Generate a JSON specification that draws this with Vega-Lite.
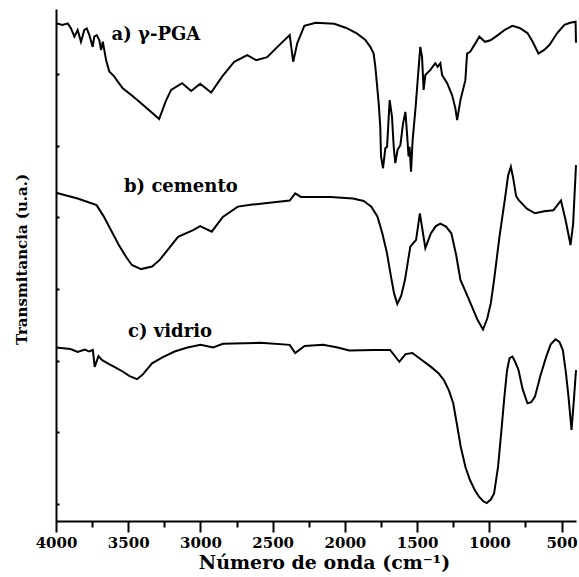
{
  "$schema": "https://vega.github.io/schema/vega-lite/v6.json",
  "width": 520,
  "height": 512,
  "autosize": {"type": "none"},
  "padding": {"left": 56, "top": 9, "right": 3, "bottom": 56},
  "background": "white",
  "config": {"view": {"stroke": null}},
  "datasets": {
    "spectra": [
      {"series": "a", "wn": 4000, "t": 97.2}, {"series": "a", "wn": 3954, "t": 96.9}, {"series": "a", "wn": 3919, "t": 97.2}, {"series": "a", "wn": 3896, "t": 96.2}, {"series": "a", "wn": 3873, "t": 94.6}, {"series": "a", "wn": 3850, "t": 95.9}, {"series": "a", "wn": 3827, "t": 93.6}, {"series": "a", "wn": 3804, "t": 95.9}, {"series": "a", "wn": 3787, "t": 96.2}, {"series": "a", "wn": 3769, "t": 94.9}, {"series": "a", "wn": 3746, "t": 92.6}, {"series": "a", "wn": 3735, "t": 94.6}, {"series": "a", "wn": 3718, "t": 94.9}, {"series": "a", "wn": 3700, "t": 93.9}, {"series": "a", "wn": 3688, "t": 92.0}, {"series": "a", "wn": 3676, "t": 93.6}, {"series": "a", "wn": 3653, "t": 90.0}, {"series": "a", "wn": 3631, "t": 87.8}, {"series": "a", "wn": 3596, "t": 86.8}, {"series": "a", "wn": 3572, "t": 85.8}, {"series": "a", "wn": 3538, "t": 84.5}, {"series": "a", "wn": 3470, "t": 83.0}, {"series": "a", "wn": 3411, "t": 81.6}, {"series": "a", "wn": 3359, "t": 80.3}, {"series": "a", "wn": 3286, "t": 78.5}, {"series": "a", "wn": 3240, "t": 82.0}, {"series": "a", "wn": 3203, "t": 84.2}, {"series": "a", "wn": 3127, "t": 85.5}, {"series": "a", "wn": 3064, "t": 84.0}, {"series": "a", "wn": 3002, "t": 85.4}, {"series": "a", "wn": 2926, "t": 83.7}, {"series": "a", "wn": 2850, "t": 86.8}, {"series": "a", "wn": 2766, "t": 89.7}, {"series": "a", "wn": 2676, "t": 91.0}, {"series": "a", "wn": 2614, "t": 90.0}, {"series": "a", "wn": 2538, "t": 90.6}, {"series": "a", "wn": 2460, "t": 92.8}, {"series": "a", "wn": 2382, "t": 94.9}, {"series": "a", "wn": 2358, "t": 89.7}, {"series": "a", "wn": 2330, "t": 93.3}, {"series": "a", "wn": 2281, "t": 96.7}, {"series": "a", "wn": 2202, "t": 97.3}, {"series": "a", "wn": 2074, "t": 97.1}, {"series": "a", "wn": 1990, "t": 96.3}, {"series": "a", "wn": 1921, "t": 95.3}, {"series": "a", "wn": 1893, "t": 94.7}, {"series": "a", "wn": 1860, "t": 94.0}, {"series": "a", "wn": 1824, "t": 92.6}, {"series": "a", "wn": 1801, "t": 91.3}, {"series": "a", "wn": 1789, "t": 88.7}, {"series": "a", "wn": 1766, "t": 81.6}, {"series": "a", "wn": 1755, "t": 77.0}, {"series": "a", "wn": 1750, "t": 71.2}, {"series": "a", "wn": 1736, "t": 68.9}, {"series": "a", "wn": 1720, "t": 72.8}, {"series": "a", "wn": 1708, "t": 73.1}, {"series": "a", "wn": 1690, "t": 82.2}, {"series": "a", "wn": 1674, "t": 79.0}, {"series": "a", "wn": 1662, "t": 73.1}, {"series": "a", "wn": 1651, "t": 69.9}, {"series": "a", "wn": 1635, "t": 72.5}, {"series": "a", "wn": 1616, "t": 73.4}, {"series": "a", "wn": 1597, "t": 77.7}, {"series": "a", "wn": 1581, "t": 79.9}, {"series": "a", "wn": 1570, "t": 75.7}, {"series": "a", "wn": 1559, "t": 71.2}, {"series": "a", "wn": 1552, "t": 73.1}, {"series": "a", "wn": 1542, "t": 68.2}, {"series": "a", "wn": 1531, "t": 74.4}, {"series": "a", "wn": 1512, "t": 80.3}, {"series": "a", "wn": 1496, "t": 86.1}, {"series": "a", "wn": 1478, "t": 92.6}, {"series": "a", "wn": 1466, "t": 90.7}, {"series": "a", "wn": 1455, "t": 84.2}, {"series": "a", "wn": 1443, "t": 87.1}, {"series": "a", "wn": 1408, "t": 88.1}, {"series": "a", "wn": 1374, "t": 89.4}, {"series": "a", "wn": 1358, "t": 88.7}, {"series": "a", "wn": 1339, "t": 89.4}, {"series": "a", "wn": 1327, "t": 87.1}, {"series": "a", "wn": 1292, "t": 85.5}, {"series": "a", "wn": 1258, "t": 83.2}, {"series": "a", "wn": 1235, "t": 80.6}, {"series": "a", "wn": 1223, "t": 78.3}, {"series": "a", "wn": 1200, "t": 82.2}, {"series": "a", "wn": 1166, "t": 86.1}, {"series": "a", "wn": 1154, "t": 91.3}, {"series": "a", "wn": 1131, "t": 91.7}, {"series": "a", "wn": 1069, "t": 94.6}, {"series": "a", "wn": 1030, "t": 93.6}, {"series": "a", "wn": 992, "t": 93.9}, {"series": "a", "wn": 941, "t": 94.9}, {"series": "a", "wn": 890, "t": 96.0}, {"series": "a", "wn": 840, "t": 96.7}, {"series": "a", "wn": 790, "t": 96.3}, {"series": "a", "wn": 736, "t": 95.3}, {"series": "a", "wn": 700, "t": 93.6}, {"series": "a", "wn": 660, "t": 91.3}, {"series": "a", "wn": 620, "t": 92.0}, {"series": "a", "wn": 583, "t": 93.0}, {"series": "a", "wn": 530, "t": 95.3}, {"series": "a", "wn": 480, "t": 96.9}, {"series": "a", "wn": 440, "t": 97.3}, {"series": "a", "wn": 403, "t": 97.5}, {"series": "a", "wn": 400, "t": 93.4},
      {"series": "b", "wn": 4000, "t": 64.1}, {"series": "b", "wn": 3850, "t": 63.0}, {"series": "b", "wn": 3719, "t": 61.7}, {"series": "b", "wn": 3670, "t": 59.5}, {"series": "b", "wn": 3619, "t": 56.8}, {"series": "b", "wn": 3565, "t": 53.9}, {"series": "b", "wn": 3515, "t": 51.6}, {"series": "b", "wn": 3475, "t": 50.0}, {"series": "b", "wn": 3411, "t": 49.2}, {"series": "b", "wn": 3335, "t": 49.7}, {"series": "b", "wn": 3282, "t": 51.0}, {"series": "b", "wn": 3217, "t": 53.3}, {"series": "b", "wn": 3155, "t": 55.5}, {"series": "b", "wn": 3051, "t": 56.8}, {"series": "b", "wn": 3002, "t": 57.6}, {"series": "b", "wn": 2922, "t": 56.5}, {"series": "b", "wn": 2845, "t": 59.4}, {"series": "b", "wn": 2741, "t": 61.4}, {"series": "b", "wn": 2640, "t": 61.8}, {"series": "b", "wn": 2538, "t": 62.1}, {"series": "b", "wn": 2382, "t": 62.6}, {"series": "b", "wn": 2344, "t": 64.0}, {"series": "b", "wn": 2304, "t": 63.3}, {"series": "b", "wn": 2100, "t": 63.3}, {"series": "b", "wn": 1944, "t": 63.0}, {"series": "b", "wn": 1870, "t": 62.5}, {"series": "b", "wn": 1817, "t": 61.4}, {"series": "b", "wn": 1775, "t": 59.5}, {"series": "b", "wn": 1741, "t": 56.2}, {"series": "b", "wn": 1710, "t": 52.5}, {"series": "b", "wn": 1685, "t": 48.4}, {"series": "b", "wn": 1660, "t": 44.5}, {"series": "b", "wn": 1637, "t": 42.4}, {"series": "b", "wn": 1610, "t": 44.0}, {"series": "b", "wn": 1584, "t": 47.1}, {"series": "b", "wn": 1547, "t": 53.6}, {"series": "b", "wn": 1507, "t": 54.9}, {"series": "b", "wn": 1481, "t": 60.1}, {"series": "b", "wn": 1443, "t": 53.3}, {"series": "b", "wn": 1404, "t": 56.2}, {"series": "b", "wn": 1370, "t": 57.6}, {"series": "b", "wn": 1339, "t": 58.1}, {"series": "b", "wn": 1300, "t": 57.5}, {"series": "b", "wn": 1263, "t": 56.2}, {"series": "b", "wn": 1230, "t": 52.0}, {"series": "b", "wn": 1200, "t": 47.1}, {"series": "b", "wn": 1160, "t": 44.5}, {"series": "b", "wn": 1121, "t": 41.9}, {"series": "b", "wn": 1082, "t": 39.3}, {"series": "b", "wn": 1044, "t": 37.4}, {"series": "b", "wn": 1015, "t": 39.5}, {"series": "b", "wn": 990, "t": 42.5}, {"series": "b", "wn": 967, "t": 47.1}, {"series": "b", "wn": 930, "t": 55.5}, {"series": "b", "wn": 890, "t": 63.3}, {"series": "b", "wn": 870, "t": 67.5}, {"series": "b", "wn": 851, "t": 69.2}, {"series": "b", "wn": 835, "t": 67.0}, {"series": "b", "wn": 815, "t": 63.5}, {"series": "b", "wn": 798, "t": 62.7}, {"series": "b", "wn": 740, "t": 61.0}, {"series": "b", "wn": 684, "t": 60.1}, {"series": "b", "wn": 620, "t": 60.5}, {"series": "b", "wn": 556, "t": 60.7}, {"series": "b", "wn": 504, "t": 62.6}, {"series": "b", "wn": 470, "t": 58.5}, {"series": "b", "wn": 438, "t": 53.9}, {"series": "b", "wn": 420, "t": 58.0}, {"series": "b", "wn": 400, "t": 69.5},
      {"series": "c", "wn": 4000, "t": 33.9}, {"series": "c", "wn": 3900, "t": 33.6}, {"series": "c", "wn": 3850, "t": 33.0}, {"series": "c", "wn": 3800, "t": 33.5}, {"series": "c", "wn": 3771, "t": 33.1}, {"series": "c", "wn": 3745, "t": 33.4}, {"series": "c", "wn": 3732, "t": 30.1}, {"series": "c", "wn": 3706, "t": 32.2}, {"series": "c", "wn": 3680, "t": 31.4}, {"series": "c", "wn": 3642, "t": 30.8}, {"series": "c", "wn": 3590, "t": 30.0}, {"series": "c", "wn": 3539, "t": 29.2}, {"series": "c", "wn": 3490, "t": 28.3}, {"series": "c", "wn": 3439, "t": 27.7}, {"series": "c", "wn": 3400, "t": 28.6}, {"series": "c", "wn": 3335, "t": 30.8}, {"series": "c", "wn": 3260, "t": 32.0}, {"series": "c", "wn": 3179, "t": 33.1}, {"series": "c", "wn": 3090, "t": 33.9}, {"series": "c", "wn": 2999, "t": 34.4}, {"series": "c", "wn": 2912, "t": 33.9}, {"series": "c", "wn": 2845, "t": 34.6}, {"series": "c", "wn": 2586, "t": 34.8}, {"series": "c", "wn": 2382, "t": 34.4}, {"series": "c", "wn": 2344, "t": 32.8}, {"series": "c", "wn": 2279, "t": 34.2}, {"series": "c", "wn": 2150, "t": 34.4}, {"series": "c", "wn": 2050, "t": 33.9}, {"series": "c", "wn": 1970, "t": 33.3}, {"series": "c", "wn": 1800, "t": 33.4}, {"series": "c", "wn": 1687, "t": 33.4}, {"series": "c", "wn": 1623, "t": 31.1}, {"series": "c", "wn": 1580, "t": 32.6}, {"series": "c", "wn": 1533, "t": 32.8}, {"series": "c", "wn": 1470, "t": 31.5}, {"series": "c", "wn": 1404, "t": 30.1}, {"series": "c", "wn": 1350, "t": 28.8}, {"series": "c", "wn": 1314, "t": 27.5}, {"series": "c", "wn": 1280, "t": 25.5}, {"series": "c", "wn": 1250, "t": 23.0}, {"series": "c", "wn": 1225, "t": 19.0}, {"series": "c", "wn": 1198, "t": 14.5}, {"series": "c", "wn": 1165, "t": 10.5}, {"series": "c", "wn": 1134, "t": 8.0}, {"series": "c", "wn": 1100, "t": 6.0}, {"series": "c", "wn": 1070, "t": 4.7}, {"series": "c", "wn": 1040, "t": 3.8}, {"series": "c", "wn": 1018, "t": 3.5}, {"series": "c", "wn": 990, "t": 4.2}, {"series": "c", "wn": 967, "t": 5.4}, {"series": "c", "wn": 940, "t": 10.5}, {"series": "c", "wn": 916, "t": 17.8}, {"series": "c", "wn": 895, "t": 24.5}, {"series": "c", "wn": 877, "t": 29.5}, {"series": "c", "wn": 860, "t": 31.8}, {"series": "c", "wn": 840, "t": 32.1}, {"series": "c", "wn": 820, "t": 31.0}, {"series": "c", "wn": 798, "t": 29.5}, {"series": "c", "wn": 770, "t": 25.8}, {"series": "c", "wn": 736, "t": 23.0}, {"series": "c", "wn": 710, "t": 23.2}, {"series": "c", "wn": 684, "t": 24.3}, {"series": "c", "wn": 645, "t": 28.5}, {"series": "c", "wn": 606, "t": 32.1}, {"series": "c", "wn": 575, "t": 34.5}, {"series": "c", "wn": 542, "t": 35.5}, {"series": "c", "wn": 515, "t": 35.0}, {"series": "c", "wn": 491, "t": 33.4}, {"series": "c", "wn": 470, "t": 29.0}, {"series": "c", "wn": 452, "t": 24.3}, {"series": "c", "wn": 431, "t": 17.8}, {"series": "c", "wn": 415, "t": 23.5}, {"series": "c", "wn": 400, "t": 29.5}
    ],
    "labels": [
      {"label": "a) γ-PGA", "wn": 3615, "t": 95.0},
      {"label": "b) cemento", "wn": 3529, "t": 65.2},
      {"label": "c) vidrio", "wn": 3501, "t": 36.9}
    ]
  },
  "layer": [
    {
      "data": {"name": "spectra"},
      "mark": {"type": "line", "color": "black", "strokeWidth": 2},
      "encoding": {
        "x": {
          "field": "wn", "type": "quantitative",
          "scale": {"domain": [400, 4000], "reverse": true, "nice": false, "zero": false},
          "axis": {
            "orient": "bottom",
            "values": [4000, 3500, 3000, 2500, 2000, 1500, 1000, 500],
            "format": "d",
            "grid": false,
            "tickSize": 11, "tickWidth": 2, "tickColor": "black",
            "domainWidth": 2, "domainColor": "black",
            "labelFont": "DejaVu Serif", "labelFontWeight": "bold", "labelFontSize": 15, "labelColor": "black",
            "labelPadding": 3, "labelFlush": false, "labelOverlap": false,
            "title": "Número de onda (cm⁻¹)",
            "titleFont": "DejaVu Serif", "titleFontWeight": "bold", "titleFontSize": 19, "titleColor": "black",
            "titlePadding": 3, "titleX": 268
          }
        },
        "y": {
          "field": "t", "type": "quantitative",
          "scale": {"domain": [0, 100], "nice": false, "zero": false},
          "axis": {
            "orient": "left",
            "values": [97.8, 94.3, 90.8, 87.3, 83.8, 80.3, 76.8, 73.3, 69.8, 66.3, 62.8, 59.3, 55.8, 52.3, 48.8, 45.3, 41.8, 38.3, 34.8, 31.3, 27.8, 24.3, 20.8, 17.3, 13.8, 10.3, 6.8, 3.3],
            "labels": false, "grid": false,
            "tickSize": -3, "tickWidth": 2, "tickColor": "black", "tickRound": true,
            "domainWidth": 2, "domainColor": "black",
            "title": "Transmitancia (u.a.)",
            "titleFont": "DejaVu Serif", "titleFontWeight": "bold", "titleFontSize": 15, "titleColor": "black",
            "titleX": -35, "titleY": 250, "titleAngle": -90, "titleBaseline": "middle", "titleAlign": "center"
          }
        },
        "detail": {"field": "series"}
      }
    },
    {
      "data": {"name": "labels"},
      "mark": {"type": "text", "align": "left", "baseline": "middle", "font": "DejaVu Serif", "fontWeight": "bold", "fontSize": 18, "color": "black"},
      "encoding": {
        "x": {
          "field": "wn", "type": "quantitative",
          "axis": {
            "orient": "bottom",
            "values": [3750, 3250, 2750, 2250, 1750, 1250, 750],
            "labels": false, "domain": false, "grid": false, "title": null,
            "tickSize": 6, "tickWidth": 2, "tickColor": "black"
          }
        },
        "y": {"field": "t", "type": "quantitative"},
        "text": {"field": "label"}
      }
    }
  ],
  "resolve": {"axis": {"x": "independent"}}
}
